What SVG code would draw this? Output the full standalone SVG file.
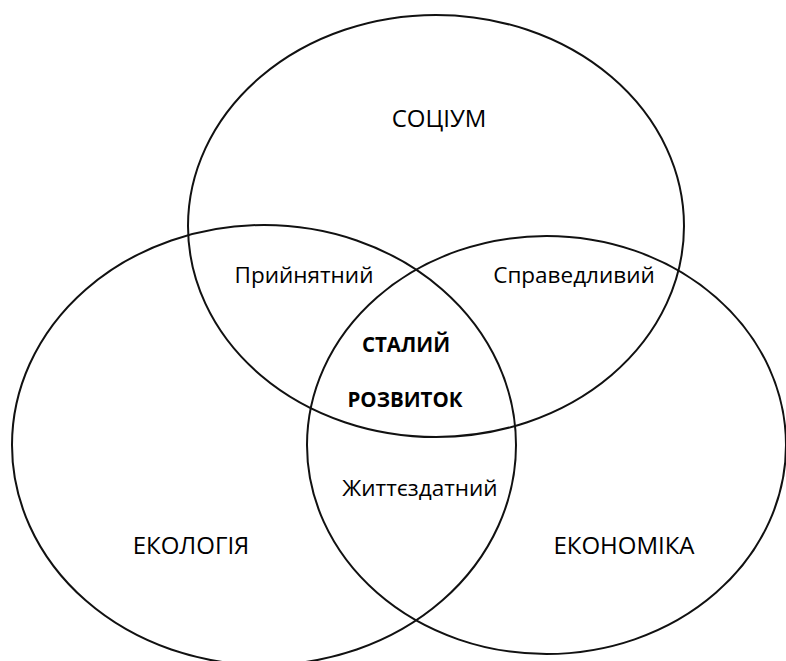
<svg xmlns="http://www.w3.org/2000/svg" width="786" height="661" viewBox="0 0 786 661">
<style>
.c{fill:none;stroke:#111;stroke-width:2}
.t{font-family:"Open Sans","Liberation Sans",sans-serif;fill:#000;text-anchor:middle}
.big{font-size:24px}
.mid{font-size:22.5px}
.b{font-size:20.5px;font-weight:bold}
</style>
<rect width="786" height="661" fill="#fff"/>
<g id="socium"><ellipse class="c" cx="436" cy="226" rx="248" ry="211"/><text class="t big" x="439" y="127">СОЦІУМ</text></g>
<g id="ecology"><ellipse class="c" cx="264" cy="445" rx="252" ry="220"/><text class="t big" x="191" y="554">ЕКОЛОГІЯ</text></g>
<g id="economy"><ellipse class="c" cx="546.5" cy="445" rx="239.5" ry="209"/><text class="t big" x="624" y="554">ЕКОНОМІКА</text></g>
<g id="acceptable"><text class="t mid" x="304" y="283">Прийнятний</text></g>
<g id="fair"><text class="t mid" x="574" y="283">Справедливий</text></g>
<g id="viable"><text class="t mid" x="420" y="496">Життєздатний</text></g>
<g id="sustainable"><text class="t b" x="406" y="352">СТАЛИЙ</text><text class="t b" x="405" y="407">РОЗВИТОК</text></g>
</svg>
